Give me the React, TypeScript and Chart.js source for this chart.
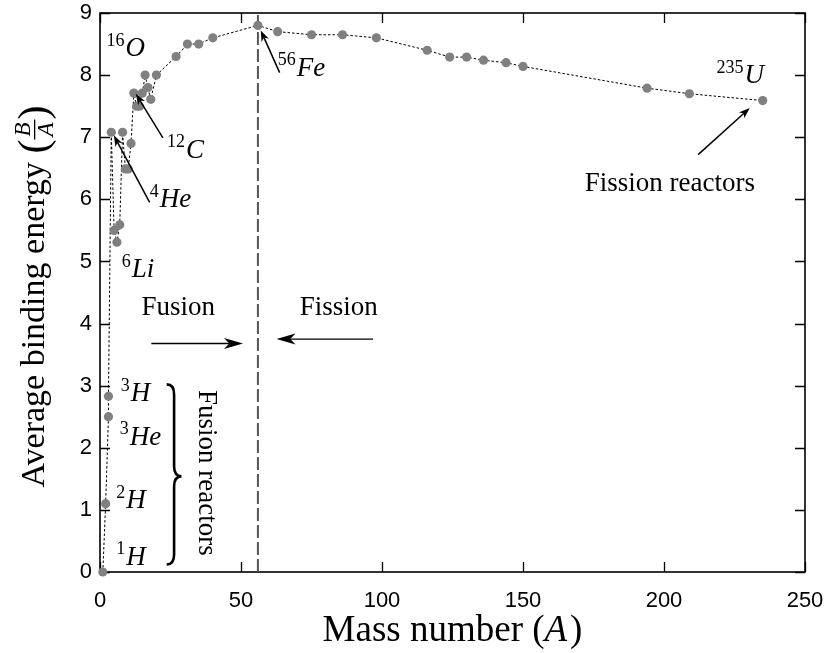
import { useEffect, useRef } from "react";
import { Chart, registerables } from "chart.js";

Chart.register(...registerables);

// Mass number A and average binding energy B/A (MeV)
const massNumbers = [1, 2, 3, 3, 4, 5, 6, 7, 8, 9, 10, 11, 12, 13, 14, 15, 16, 17, 18, 20, 27, 31, 35, 40, 56, 63, 75, 86, 98, 116, 124, 130, 136, 144, 150, 194, 209, 235];
const bindingEnergies = [0, 1.1, 2.5, 2.83, 7.08, 5.5, 5.31, 5.59, 7.08, 6.49, 6.49, 6.9, 7.71, 7.5, 7.5, 7.71, 8.0, 7.8, 7.61, 8.0, 8.3, 8.5, 8.5, 8.6, 8.8, 8.7, 8.65, 8.65, 8.6, 8.4, 8.29, 8.29, 8.24, 8.2, 8.14, 7.79, 7.7, 7.59];

const ironPeakA = 56;
const xTicks = [0, 50, 100, 150, 200, 250];
const yTicks = [0, 1, 2, 3, 4, 5, 6, 7, 8, 9];

type Seg = { t: string; sup?: boolean; it?: boolean };
type Label = { x: number; y: number; segs: Seg[] };
type Arrow = { x1: number; y1: number; x2: number; y2: number; big?: boolean };

// annotation anchors in data coordinates (A, B/A)
const labels: Label[] = [
  { x: 2.3, y: 8.3, segs: [{ t: "16", sup: true }, { t: "O", it: true }] },
  { x: 23.8, y: 6.67, segs: [{ t: "12", sup: true }, { t: "C", it: true }] },
  { x: 17.6, y: 5.87, segs: [{ t: "4", sup: true }, { t: "He", it: true }] },
  { x: 7.7, y: 4.75, segs: [{ t: "6", sup: true }, { t: "Li", it: true }] },
  { x: 63.0, y: 7.99, segs: [{ t: "56", sup: true }, { t: "Fe", it: true }] },
  { x: 218.6, y: 7.87, segs: [{ t: "235", sup: true }, { t: "U", it: true }] },
  { x: 171.9, y: 6.13, segs: [{ t: "Fission reactors" }] },
  { x: 14.7, y: 4.14, segs: [{ t: "Fusion" }] },
  { x: 70.8, y: 4.14, segs: [{ t: "Fission" }] },
  { x: 7.4, y: 2.75, segs: [{ t: "3", sup: true }, { t: "H", it: true }] },
  { x: 7.0, y: 2.05, segs: [{ t: "3", sup: true }, { t: "He", it: true }] },
  { x: 5.8, y: 1.03, segs: [{ t: "2", sup: true }, { t: "H", it: true }] },
  { x: 5.8, y: 0.12, segs: [{ t: "1", sup: true }, { t: "H", it: true }] },
];

const arrows: Arrow[] = [
  { x1: 22.3, y1: 6.99, x2: 12.7, y2: 7.7 },
  { x1: 17.6, y1: 5.95, x2: 4.9, y2: 7.03 },
  { x1: 63.7, y1: 8.04, x2: 57.0, y2: 8.72 },
  { x1: 212.1, y1: 6.72, x2: 230.4, y2: 7.47 },
  { x1: 18.2, y1: 3.68, x2: 50.7, y2: 3.68, big: true },
  { x1: 96.8, y1: 3.75, x2: 62.6, y2: 3.75, big: true },
];

const brace = { x: 23.65, tipX: 28.9, top: 3.02, bottom: 0.12, mid: 1.54 };
const rotatedLabel = { x: 35.0, y: 2.93, text: "Fusion reactors" };

const SERIF = '"Liberation Serif", "DejaVu Serif", serif';
const LABEL_SIZE = 27;

function drawMath(ctx: CanvasRenderingContext2D, x: number, y: number, segs: Seg[], size: number) {
  let cx = x;
  for (const s of segs) {
    const fs = s.sup ? Math.round(size * 0.68) : size;
    ctx.font = `${s.it ? "italic " : ""}${fs}px ${SERIF}`;
    const dy = s.sup ? -size * 0.38 : 0;
    ctx.fillText(s.t, cx, y + dy);
    cx += ctx.measureText(s.t).width + (s.sup ? 1 : 0);
  }
}

function drawArrow(ctx: CanvasRenderingContext2D, x1: number, y1: number, x2: number, y2: number, big?: boolean) {
  const headLen = big ? 19 : 11;
  const headW = big ? 5.5 : 4;
  const ang = Math.atan2(y2 - y1, x2 - x1);
  ctx.lineWidth = big ? 1.4 : 1.5;
  ctx.beginPath();
  ctx.moveTo(x1, y1);
  ctx.lineTo(x2 - Math.cos(ang) * headLen * 0.7, y2 - Math.sin(ang) * headLen * 0.7);
  ctx.stroke();
  ctx.save();
  ctx.translate(x2, y2);
  ctx.rotate(ang);
  ctx.beginPath();
  ctx.moveTo(0, 0);
  ctx.lineTo(-headLen, -headW);
  ctx.lineTo(-headLen * 0.72, 0);
  ctx.lineTo(-headLen, headW);
  ctx.closePath();
  ctx.fill();
  ctx.restore();
}

const decorPlugin = {
  id: "decor",
  beforeDatasetsDraw(chart: any) {
    const { ctx, chartArea: a, scales } = chart;
    const xs = scales.x;
    const ys = scales.y;
    ctx.save();
    ctx.strokeStyle = "#000";
    ctx.lineWidth = 1.6;
    ctx.strokeRect(a.left, a.top, a.right - a.left, a.bottom - a.top);
    ctx.lineWidth = 1.3;
    const tl = 10;
    ctx.beginPath();
    for (const v of xTicks) {
      const px = Math.round(xs.getPixelForValue(v)) + 0.5;
      ctx.moveTo(px, a.bottom);
      ctx.lineTo(px, a.bottom - tl);
      ctx.moveTo(px, a.top);
      ctx.lineTo(px, a.top + tl);
    }
    for (const v of yTicks) {
      const py = Math.round(ys.getPixelForValue(v)) + 0.5;
      ctx.moveTo(a.left, py);
      ctx.lineTo(a.left + tl, py);
      ctx.moveTo(a.right, py);
      ctx.lineTo(a.right - tl, py);
    }
    ctx.stroke();
    ctx.restore();
  },
  afterDraw(chart: any) {
    const { ctx, chartArea: a, scales } = chart;
    const X = (v: number) => scales.x.getPixelForValue(v);
    const Y = (v: number) => scales.y.getPixelForValue(v);
    ctx.save();
    ctx.fillStyle = "#000";
    ctx.strokeStyle = "#000";
    ctx.textBaseline = "alphabetic";
    ctx.textAlign = "left";

    for (const l of labels) drawMath(ctx, X(l.x), Y(l.y), l.segs, LABEL_SIZE);
    for (const ar of arrows) drawArrow(ctx, X(ar.x1), Y(ar.y1), X(ar.x2), Y(ar.y2), ar.big);

    // curly brace
    const bx = X(brace.x);
    const tx = X(brace.tipX);
    const mx = (bx + tx) / 2;
    const t = Y(brace.top);
    const b = Y(brace.bottom);
    const m = Y(brace.mid);
    ctx.lineWidth = 2.6;
    ctx.beginPath();
    ctx.moveTo(bx, t);
    ctx.quadraticCurveTo(mx, t, mx, t + 10);
    ctx.lineTo(mx, m - 10);
    ctx.quadraticCurveTo(mx, m, tx, m);
    ctx.quadraticCurveTo(mx, m, mx, m + 10);
    ctx.lineTo(mx, b - 10);
    ctx.quadraticCurveTo(mx, b, bx, b);
    ctx.stroke();

    // rotated label
    ctx.save();
    ctx.translate(X(rotatedLabel.x), Y(rotatedLabel.y));
    ctx.rotate(Math.PI / 2);
    ctx.font = `${LABEL_SIZE}px ${SERIF}`;
    ctx.fillText(rotatedLabel.text, 0, 0);
    ctx.restore();

    // x axis title
    const xt1 = "Mass number (";
    const xt2 = "A";
    const xt3 = ")";
    const xs = 37;
    ctx.font = `${xs}px ${SERIF}`;
    const w1 = ctx.measureText(xt1).width;
    const w3 = ctx.measureText(xt3).width;
    ctx.font = `italic ${xs}px ${SERIF}`;
    const w2 = ctx.measureText(xt2).width + 3;
    let cx = (a.left + a.right) / 2 - (w1 + w2 + w3) / 2;
    const by = 641;
    ctx.font = `${xs}px ${SERIF}`;
    ctx.fillText(xt1, cx, by);
    cx += w1;
    ctx.font = `italic ${xs}px ${SERIF}`;
    ctx.fillText(xt2, cx, by);
    cx += w2;
    ctx.font = `${xs}px ${SERIF}`;
    ctx.fillText(xt3, cx, by);

    // y axis title
    ctx.save();
    ctx.translate(44, (a.top + a.bottom) / 2 + 4);
    ctx.rotate(-Math.PI / 2);
    const ys = 34;
    const main = "Average binding energy ";
    ctx.font = `${ys}px ${SERIF}`;
    const wm = ctx.measureText(main).width;
    const pf = `42px ${SERIF}`;
    ctx.font = pf;
    const wp = ctx.measureText("(").width;
    const ff = `italic 23px ${SERIF}`;
    ctx.font = ff;
    const wf = Math.max(ctx.measureText("B").width, ctx.measureText("A").width) + 6;
    const total = wm + wp * 2 + wf;
    let x = -total / 2;
    ctx.font = `${ys}px ${SERIF}`;
    ctx.fillText(main, x, 0);
    x += wm;
    ctx.font = pf;
    ctx.fillText("(", x, 3);
    x += wp;
    ctx.fillRect(x, -10, wf, 1.3);
    ctx.font = ff;
    ctx.textAlign = "center";
    ctx.fillText("B", x + wf / 2, -14);
    ctx.fillText("A", x + wf / 2, 9);
    ctx.textAlign = "left";
    x += wf;
    ctx.font = pf;
    ctx.fillText(")", x, 3);
    ctx.restore();

    ctx.restore();
  },
};

export default function App() {
  const ref = useRef<HTMLCanvasElement | null>(null);
  useEffect(() => {
    document.body.style.margin = "0";
    if (!ref.current) return;
    const points = massNumbers.map((a, i) => ({ x: a, y: bindingEnergies[i] }));
    const chart = new Chart(ref.current, {
      type: "scatter",
      data: {
        datasets: [
          {
            data: points,
            showLine: true,
            borderColor: "#000",
            borderWidth: 1,
            borderDash: [2.5, 2],
            pointRadius: 4.6,
            pointBackgroundColor: "#808080",
            pointBorderWidth: 0,
            pointBorderColor: "#808080",
            clip: false as any,
          },
          {
            data: [
              { x: ironPeakA, y: 0 },
              { x: ironPeakA, y: 9 },
            ],
            showLine: true,
            borderColor: "#555",
            borderWidth: 2,
            borderDash: [13, 4],
            pointRadius: 0,
          },
        ],
      },
      options: {
        animation: false,
        responsive: false,
        devicePixelRatio: 1,
        layout: { padding: { top: 13, right: 21, left: 0, bottom: 0 } },
        plugins: { legend: { display: false }, tooltip: { enabled: false } },
        scales: {
          x: {
            type: "linear",
            min: 0,
            max: 250,
            afterFit: (s: any) => {
              s.height = 81;
              s.paddingLeft = 0;
              s.paddingRight = 0;
            },
            afterBuildTicks: (s: any) => {
              s.ticks = xTicks.map((v) => ({ value: v }));
            },
            grid: { display: false, drawTicks: false },
            border: { display: false },
            ticks: {
              padding: 16,
              color: "#000",
              font: { family: '"Liberation Sans", Arial, sans-serif', size: 22 },
              maxRotation: 0,
            },
          },
          y: {
            type: "linear",
            min: 0,
            max: 9,
            afterFit: (s: any) => {
              s.width = 100;
              s.paddingTop = 0;
              s.paddingBottom = 0;
            },
            afterBuildTicks: (s: any) => {
              s.ticks = yTicks.map((v) => ({ value: v }));
            },
            grid: { display: false, drawTicks: false },
            border: { display: false },
            ticks: {
              padding: 8,
              color: "#000",
              font: { family: '"Liberation Sans", Arial, sans-serif', size: 22 },
            },
          },
        },
      },
      plugins: [decorPlugin],
    });
    return () => chart.destroy();
  }, []);
  return (
    <div style={{ width: 826, height: 653, background: "#fff" }}>
      <canvas ref={ref} width={826} height={653} />
    </div>
  );
}
